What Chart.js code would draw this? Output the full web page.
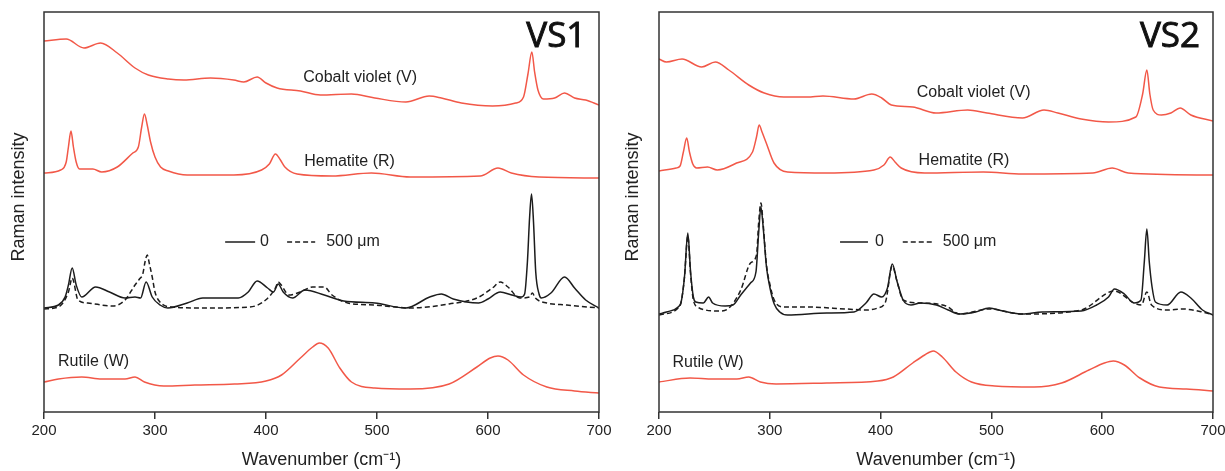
<!DOCTYPE html>
<html><head><meta charset="utf-8">
<script src="https://cdn.jsdelivr.net/npm/chart.js@4/dist/chart.umd.min.js"></script>
<style>
html,body{margin:0;padding:0;background:#fff;}
#wrap{position:relative;width:1225px;height:471px;overflow:hidden;}
#c1{position:absolute;left:0;top:0;}
#c2{position:absolute;left:612px;top:0;}
</style></head><body>
<div id="wrap"><canvas id="c1" width="612" height="471"></canvas><canvas id="c2" width="613" height="471"></canvas></div>
<script>
// ---------- tick labels ----------
const xTicks = [200, 300, 400, 500, 600, 700];

// ---------- VS1 ----------
const vs1CobaltX = [200,220,236,251,266,282,294,312,326,350,371,380,392,400,410,431,449,477,498,526,547,558,576,604,625,632,636,639.5,642,645,650,660,669,678,688,700];
const vs1CobaltY = [371,373,364,369,359,344,337,333,332,334,332,330,335,329,324,321,317,318,314,310,316,314,309,306,309,315,338,360,340,322,313,314,319,314,312,307];

const vs1HematiteX = [200,215,220,222,224.3,226.5,229,232,244,252,266,280,285,288,290.5,293,296,300,305,312,329,371,396,403,408.5,413,417,428,459.5,495,530,593,609,621,646,700];
const vs1HematiteY = [239,242,250,265,281,265,250,243,243,240,245,259,265,285,298,287,270,255,245,241,237,237,242,248,258,252,245,238,236,239,235,236,244,239,235,234];

const vs1SolidX = [200,213,219,222,225.4,229,234,246.5,259,273,282,287,292,297.5,304.5,311.6,329,343,375,384,392,401.4,406.7,411,415.5,424,435,452.5,470,498,526,547.5,558,568.7,591.5,600,611,621.5,630,633,635.5,637.5,639.2,641,643,646,648,656.7,669,678,688,700];
const vs1SolidY = [104,107,115,127,144,127,115,125,120,114,115,114,130,115,107,104,109,114,114,120,131,124,120,128,120,114,122,117,111,109,104,115,118,113,109,113,120,117,115,118,150,195,218,190,140,118,114,119,135,124,112,104];

const vs1DashedX = [200,213,222,225.4,230.6,239.4,262,273,282,286,289,291,293,295,297.5,300,304.5,315,343,385.6,399.7,408.5,411,413.7,420.7,431,442,452.5,459.5,473.6,498,530,565,590,604,611,618,628.5,637.4,640,642.6,653,671,700];
const vs1DashedY = [103,105,120,134,112,109,106,112,127,133,138,150,157,148,135,120,110,105,104,105,112,124,130,127,117,120,125,125,117,109,107,104,108,114,124,130,125,114,115,119,114,109,107,104];

const vs1RutileX = [200,213,234,252,273,282,290.5,308,336,371.5,400,414,431,442,448,456,466.5,477,498,530,565,590,602,609,618,632,653,678,700];
const vs1RutileY = [30,33,35,33,33,35,30,26,27,28,31,37,54,65,69,64,44,30,24,23,28,45,54,56,52,37,25,21,19];

// ---------- VS2 ----------
const vs2CobaltX = [200,206.7,220.8,238.5,250.8,263,281,295,312.6,333.8,348,376,392,401,409.7,429,450,478.6,496,528,547.5,560,581,605.7,630.4,636.5,640.3,643,646,653.4,662,670.3,680,700];
const vs2CobaltY = [353,350,353,345,350,342,327,319,315,315,316,313,318,314,307,305,299,302,299,294,302,299,293,290,295,318,342,318,302,297,299,304,297,291];

const vs2HematiteX = [200,215.5,219,222,225,227.5,230.5,234,243.8,252.6,270,284.4,288,290.4,293,296.8,303.8,316,351.5,394,403,408.7,413,418.6,439.8,492.7,528,591.6,609,623.4,700];
const vs2HematiteY = [241,244,246,260,274,260,248,244,245,242,249,260,275,287,280,269,249,240,239,242,247,255,250,244,239,240,238,239,244,239,237];

const vs2SolidX = [200,206.7,217.3,220,223,226,228.5,231,233.2,240,244.8,248.4,259.7,266.7,273.8,282.6,287.5,290,292,294,297,300,304,309,316,351.5,376,386.8,394,401,406.2,410.5,415,420.3,427.4,436,450.4,461,471.5,485.7,498,510.4,528,545.7,581,595,605.7,611,620,628.7,635,638,640.3,642.5,645,648,658.6,671,680,690.5,700];
const vs2SolidY = [98,100,105,110,135,179,140,115,110,109,115,109,106,107,117,129,140,180,205,185,145,125,108,100,97,99,100,109,118,115,124,148,130,112,107,109,107,102,98,100,104,101,98,100,101,107,115,123,118,109,112,150,183,150,125,110,107,120,114,102,97];

const vs2DashedX = [200,217.3,220,223,226,228.5,231,235,242,254.4,263.2,273.8,282.6,288,290,292,294,297,300,304,312.6,333.8,369,386.8,397.4,404.4,410.5,415,420.3,436,459,471.5,498,528,581,611,628.7,635.4,640.3,644.5,658.6,672.7,690.5,700];
const vs2DashedY = [97,104,110,135,176,138,112,105,102,101,104,122,149,157,190,209,188,147,128,112,105,105,103,102,104,110,146,130,112,109,106,98,103,98,102,121,109,107,120,107,102,103,100,97];

const vs2RutileX = [200,228,249,270.3,281,291.5,305.6,351.5,397.4,411.5,429,439.8,447.5,455.7,468,482,503,538.6,563.4,588,602,610,620,634,651.6,676,700];
const vs2RutileY = [30,34,33,33,35,30,28,29,31,35,49,57,61,55,40,30,26,25,29,42,49,51,47,34,25,23,21];

// ---------- helpers ----------
const RED = 'rgb(242,88,72)';
const BLACK = '#1c1c1c';
const TXT = '#222';
const FONT = "'Liberation Sans', Arial, sans-serif";

function pts(xs, ys) { return xs.map((x, i) => ({ x: x, y: ys[i] })); }

function makeDatasets(c, h, s, d, r) {
  return [
    { label: 'Cobalt violet (V)', data: pts(c[0], c[1]), borderColor: RED },
    { label: 'Hematite (R)', data: pts(h[0], h[1]), borderColor: RED },
    { label: '0', data: pts(s[0], s[1]), borderColor: BLACK },
    { label: '500 \u03bcm', data: pts(d[0], d[1]), borderColor: BLACK, borderDash: [5, 3] },
    { label: 'Rutile (W)', data: pts(r[0], r[1]), borderColor: RED }
  ];
}

const decorPlugin = {
  id: 'decor',
  afterDatasetsDraw(chart, args, o) {
    const ctx = chart.ctx, a = chart.chartArea;
    const xs = chart.scales.x, ys = chart.scales.y;
    ctx.save();
    // frame
    ctx.strokeStyle = '#333';
    ctx.lineWidth = 1.5;
    ctx.strokeRect(a.left, a.top, a.right - a.left, a.bottom - a.top);
    // curve labels
    ctx.fillStyle = TXT;
    ctx.font = '16px ' + FONT;
    ctx.textAlign = 'left';
    ctx.textBaseline = 'middle';
    o.labels.forEach(l => ctx.fillText(l.text, xs.getPixelForValue(l.x), ys.getPixelForValue(l.y)));
    // legend
    const lg = o.legend, ly = ys.getPixelForValue(lg.y);
    ctx.strokeStyle = BLACK;
    ctx.lineWidth = 1.5;
    ctx.beginPath();
    ctx.moveTo(xs.getPixelForValue(lg.solid[0]), ly);
    ctx.lineTo(xs.getPixelForValue(lg.solid[1]), ly);
    ctx.stroke();
    ctx.setLineDash([5, 3]);
    ctx.beginPath();
    ctx.moveTo(xs.getPixelForValue(lg.dashed[0]), ly);
    ctx.lineTo(xs.getPixelForValue(lg.dashed[1]), ly);
    ctx.stroke();
    ctx.setLineDash([]);
    ctx.fillText(chart.data.datasets[2].label, xs.getPixelForValue(lg.zeroX), ly);
    ctx.fillText(chart.data.datasets[3].label, xs.getPixelForValue(lg.textX), ly);
    // panel title
    ctx.font = "35px 'Open Sans', 'Noto Sans', sans-serif";
    ctx.textAlign = 'right';
    ctx.fillStyle = '#111';
    ctx.strokeStyle = '#111';
    ctx.lineWidth = 0.9;
    const tx = xs.getPixelForValue(o.title.x), ty = ys.getPixelForValue(o.title.y);
    ctx.fillText(o.title.text, tx, ty);
    ctx.strokeText(o.title.text, tx, ty);
    // y axis title
    ctx.font = '18px ' + FONT;
    ctx.fillStyle = TXT;
    ctx.textAlign = 'center';
    ctx.translate(o.yTitle.x, o.yTitle.y);
    ctx.rotate(-Math.PI / 2);
    ctx.fillText('Raman intensity', 0, 0);
    ctx.restore();
  }
};

function makeChart(id, datasets, padL, padR, decor) {
  return new Chart(document.getElementById(id), {
    type: 'line',
    data: { datasets: datasets },
    options: {
      responsive: false,
      animation: false,
      events: [],
      layout: { padding: { left: padL, right: padR, top: 12, bottom: 0 } },
      elements: {
        point: { radius: 0 },
        line: { borderWidth: 1.5, cubicInterpolationMode: 'monotone', fill: false }
      },
      plugins: { legend: { display: false }, tooltip: { enabled: false }, decor: decor },
      scales: {
        x: {
          type: 'linear', min: 200, max: 700,
          afterBuildTicks: s => { s.ticks = xTicks.map(v => ({ value: v })); },
          afterFit: s => { s.height = 59; s.paddingLeft = 0; s.paddingRight = 0; },
          grid: { display: true, drawOnChartArea: false, drawTicks: true, tickLength: 7, color: '#333', lineWidth: 1.5 },
          border: { display: false },
          ticks: { font: { family: FONT, size: 15 }, color: TXT, padding: 3, maxRotation: 0, autoSkip: false },
          title: { display: true, text: 'Wavenumber (cm\u207b\u00b9)', font: { family: FONT, size: 18 }, color: TXT, padding: { top: 0, bottom: 0 } }
        },
        y: { type: 'linear', display: false, min: 0, max: 400 }
      }
    },
    plugins: [decorPlugin]
  });
}

makeChart('c1',
  makeDatasets([vs1CobaltX, vs1CobaltY], [vs1HematiteX, vs1HematiteY], [vs1SolidX, vs1SolidY], [vs1DashedX, vs1DashedY], [vs1RutileX, vs1RutileY]),
  44, 13,
  {
    labels: [
      { text: 'Cobalt violet (V)', x: 433.5, y: 334 },
      { text: 'Hematite (R)', x: 434.4, y: 250 },
      { text: 'Rutile (W)', x: 212.6, y: 50 }
    ],
    legend: { solid: [363.2, 390.2], zeroX: 394.7, dashed: [419, 444.3], textX: 454.2, y: 170 },
    title: { text: 'VS1', x: 688.6, y: 374.5 },
    yTitle: { x: 19.5, y: 197 }
  });

makeChart('c2',
  makeDatasets([vs2CobaltX, vs2CobaltY], [vs2HematiteX, vs2HematiteY], [vs2SolidX, vs2SolidY], [vs2DashedX, vs2DashedY], [vs2RutileX, vs2RutileY]),
  47, 12,
  {
    labels: [
      { text: 'Cobalt violet (V)', x: 432.6, y: 319 },
      { text: 'Hematite (R)', x: 434.3, y: 251 },
      { text: 'Rutile (W)', x: 212.2, y: 49 }
    ],
    legend: { solid: [363.4, 388.6], zeroX: 395, dashed: [420, 447.3], textX: 456, y: 170 },
    title: { text: 'VS2', x: 688.3, y: 374.5 },
    yTitle: { x: 21.5, y: 197 }
  });
</script>
</body></html>
